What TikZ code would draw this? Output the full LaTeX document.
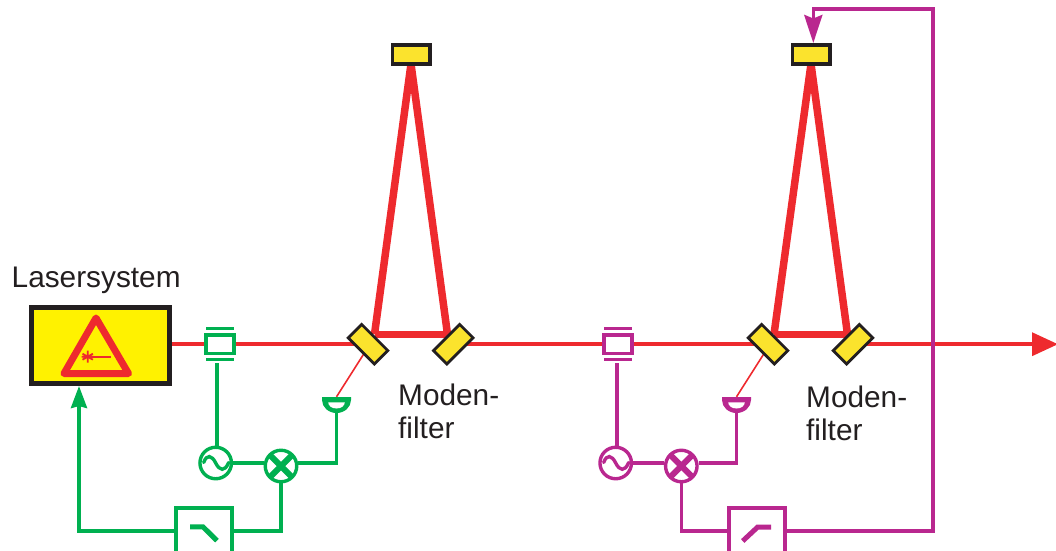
\documentclass[tikz,border=0pt]{standalone}
\usepackage{fontspec}
\setmainfont{Liberation Sans}
\usetikzlibrary{arrows.meta,calc,backgrounds}
\definecolor{cred}{HTML}{EE2A2E}
\definecolor{cgreen}{HTML}{00B050}
\definecolor{cpurple}{HTML}{B9278F}
\definecolor{cyel}{HTML}{FFF200}
\definecolor{cmir}{HTML}{FBE32D}
\definecolor{cblk}{HTML}{231F20}
\tikzset{
  labeltext/.style={anchor=north west,inner sep=0pt,align=left,text=cblk,font=\fontsize{29.8}{33}\selectfont},
  beam/.style={cred,line width=7.5pt,line join=round},
  basebeam/.style={cred,line width=6.7pt},
  ray/.style={cred,line width=3.5pt},
  thinray/.style={cred,line width=1.6pt},
  mirror/.style={draw=cblk,fill=cmir,line width=2.8pt,inner sep=0pt,outer sep=0pt,minimum width=37pt,minimum height=19pt},
  topmirror/.style={draw=cblk,fill=cmir,line width=3.5pt,inner sep=0pt,minimum width=37.5pt,minimum height=19pt},
  laserbox/.style={draw=cblk,fill=cyel,line width=4.5pt,inner sep=0pt,minimum width=138pt,minimum height=76pt},
  eom/.style={draw=#1,fill=white,line width=3.4pt,inner sep=0pt,minimum width=28pt,minimum height=18.7pt},
  osc/.style={draw=#1,fill=white,circle,line width=3.4pt,inner sep=0pt,minimum size=31.5pt},
  mixer/.style={draw=#1,fill=white,circle,line width=3.4pt,inner sep=0pt,minimum size=31.5pt,
    path picture={\draw[#1,line width=6pt]
      (path picture bounding box.south west)--(path picture bounding box.north east)
      (path picture bounding box.north west)--(path picture bounding box.south east);}},
  filterbox/.style={draw=#1,fill=white,line width=3.4pt,inner sep=0pt,minimum width=56pt,minimum height=46pt},
  detbox/.style={inner sep=0pt,minimum width=29pt,minimum height=16pt},
  wire/.style={draw=#1,line width=3.6pt},
  barline/.style={draw=#1,line width=3.2pt},
  wavy/.style={#1,line width=3.4pt,line cap=round},
  stepline/.style={#1,line width=5pt},
}
\newcommand{\detshape}[3]{% x, y-top, colour
  \fill[#3] (#1-14.5,#2) -- (#1+14.5,#2) -- (#1+14.5,#2+3) arc[start angle=0,end angle=180,x radius=14.5,y radius=13] -- cycle;
  \fill[white] (#1+8.3,#2+5.3) arc[start angle=0,end angle=180,x radius=8.3,y radius=6.2] -- cycle;
}
\newcommand{\sinewave}[3]{% x,y,colour
  \draw[wavy=#3] (#1-12,#2-0.5) .. controls (#1-9,#2-9) and (#1-4,#2-8) .. (#1,#2) .. controls (#1+4,#2+8) and (#1+9,#2+9) .. (#1+13,#2-0.5);
}
\begin{document}
\begin{tikzpicture}[x=1pt,y=-1pt]
\clip (0,0) rectangle (1056,550);

\coordinate (bl1) at (374.5,334.3);
\coordinate (br1) at (447.5,334.3);
\coordinate (bl2) at (774,334.3);
\coordinate (br2) at (847.5,334.3);
\coordinate (apex1) at (411,64);
\coordinate (apex2) at (811,64);
\coordinate (rs1) at (365,352);
\coordinate (rs2) at (765,352);
\coordinate (outtip) at (1058,344.2);

\node[laserbox] (laser) at (100.5,345.5) {};
\node[eom=cgreen] (eom1) at (220,344.2) {};
\node[eom=cpurple] (eom2) at (617.8,344.2) {};
\node[mirror,rotate=-45] (m1a) at (368,344.2) {};
\node[mirror,rotate=45] (m1b) at (453.3,344.2) {};
\node[mirror,rotate=-45] (m2a) at (768,344.2) {};
\node[mirror,rotate=45] (m2b) at (853,344.2) {};
\node[topmirror] (tm1) at (411.3,54.5) {};
\node[topmirror] (tm2) at (811.2,54.5) {};
\node[detbox] (det1) at (336.5,405) {};
\node[detbox] (det2) at (736.5,405) {};

\begin{scope}[on background layer]
\draw[beam] (bl1) -- (apex1) -- (br1);
\draw[basebeam] (bl1) -- (br1);
\draw[beam] (bl2) -- (apex2) -- (br2);
\draw[basebeam] (bl2) -- (br2);
\draw[ray] (laser.east |- eom1.west) -- (eom1.west);
\draw[ray] (eom1.east) -- (m1a.center);
\draw[ray] (m1b.center) -- (eom2.west);
\draw[ray] (eom2.east) -- (m2a.center);
\draw[ray,-{Triangle[length=26pt,width=23pt]}] (m2b.center) -- (outtip);
\draw[thinray] (rs1) -- (det1.north);
\draw[thinray] (rs2) -- (det2.north);
\end{scope}

% laser symbol
\draw[cred,line width=7pt,line join=round] (96,318) -- (128.5,373.5) -- (64,373.5) -- cycle;
\draw[cred,line width=1.8pt] (87.7,356.7) -- (111,356.7);
\draw[cred,line width=1.8pt] (87.7,350.7) -- (87.7,362.7) (82.5,353.7) -- (92.9,359.7) (82.5,359.7) -- (92.9,353.7) (81.7,356.7) -- (93.7,356.7);

% modulator bars
\draw[barline=cgreen] (206,328.3) -- (234,328.3) (206,359.7) -- (234,359.7);
\draw[barline=cpurple] (604,328.3) -- (631.7,328.3) (604,359.7) -- (631.7,359.7);

% electronics nodes
\node[osc=cgreen] (osc1) at (215.7,463) {};
\node[mixer=cgreen] (mix1) at (281,466) {};
\node[filterbox=cgreen] (filt1) at (204,531) {};
\node[osc=cpurple] (osc2) at (615.7,463) {};
\node[mixer=cpurple] (mix2) at (681.3,466) {};
\node[filterbox=cpurple] (filt2) at (757,531) {};
\sinewave{215.7}{463}{cgreen}
\sinewave{615.7}{463}{cpurple}
\detshape{336.5}{397}{cgreen}
\detshape{736.5}{397}{cpurple}

% green loop
\coordinate (gtop) at (216.7,363);
\coordinate (ptop) at (616.7,363);
\coordinate (fb1) at (79,386);
\draw[wire=cgreen] (gtop) -- (gtop |- osc1.north);
\draw[wire=cgreen] (osc1.east) -- (osc1.east -| mix1.west);
\draw[wire=cgreen] (osc1.east -| mix1.east) -| (det1.south);
\draw[wire=cgreen] (mix1.south) |- (filt1.east);
\draw[wire=cgreen,-{Stealth[length=22pt,width=16pt,inset=2pt]}] (filt1.west) -| (fb1);
\draw[stepline=cgreen] (190,526.8) -- (203,526.8) -- (217,540.7);

% purple loop
\coordinate (fb2) at (813.3,43);
\coordinate (rc1) at (933,531);
\coordinate (rc2) at (933,9);
\draw[wire=cpurple] (ptop) -- (ptop |- osc2.north);
\draw[wire=cpurple] (osc2.east) -- (osc2.east -| mix2.west);
\draw[wire=cpurple] (osc2.east -| mix2.east) -| (det2.south);
\draw[wire=cpurple] (mix2.south) |- (filt2.west);
\draw[wire=cpurple,-{Stealth[length=28pt,width=18pt,inset=3.5pt]}] (filt2.east) -- (rc1) -- (rc2) -- (fb2 |- rc2) -- (fb2);
\draw[stepline=cpurple] (771,527) -- (757.7,527) -- (742.7,541);

% labels
\node[labeltext,anchor=base west] (lbl) at (11.5,287.5) {Lasersystem};
\node[labeltext] (mf1) at (398,384) {Moden-\\filter};
\node[labeltext] (mf2) at (806,386) {Moden-\\filter};
\end{tikzpicture}
\end{document}
